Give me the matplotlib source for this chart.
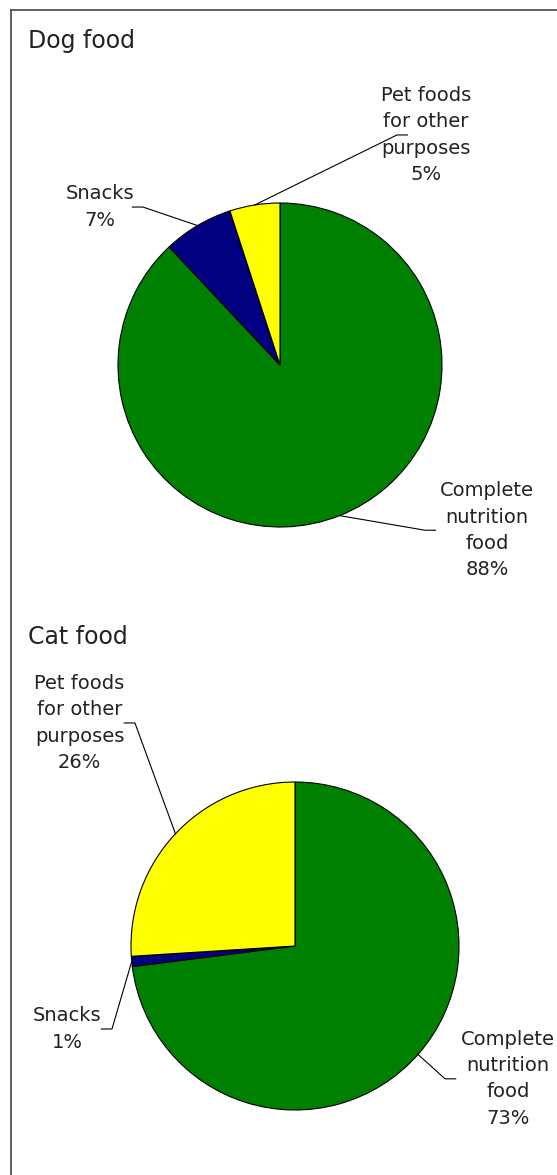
import numpy as np
import matplotlib
matplotlib.use("Agg")
import matplotlib.pyplot as plt
from matplotlib.lines import Line2D

# data
categories = ["Complete\nnutrition\nfood", "Snacks", "Pet foods\nfor other\npurposes"]
dog_values = [88, 7, 5]
cat_values = [73, 1, 26]
colors = ["#008000", "#000080", "#FFFF00"]

W, H = 557, 1175
plt.rcParams['font.family'] = ['DejaVu Sans']
TXT = "#222222"

fig = plt.figure(figsize=(W / 100, H / 100), dpi=100)

# outer frame (only top and left edges are visible in the crop)
fig.add_artist(Line2D([11 / W, 11 / W], [0, 1 - 10 / H], color="#444444", lw=1.2))
fig.add_artist(Line2D([11 / W, 1], [1 - 10 / H, 1 - 10 / H], color="#444444", lw=1.2))


def draw_pie(rect, values, title, title_base, label_pos):
    ax = fig.add_axes(rect)
    wedges, _ = ax.pie(values, colors=colors, startangle=90, counterclock=False,
                       wedgeprops=dict(edgecolor="black", linewidth=0.8))
    ax.set_xlim(-1, 1)
    ax.set_ylim(-1, 1)
    ax.set_aspect("equal")

    total = float(sum(values))
    start = 0.0
    for name, v, (tx, ty, ex, side) in zip(categories, values, label_pos):
        mid = start + v / total / 2
        start += v / total
        ang = np.deg2rad(90 - mid * 360)
        px, py = np.cos(ang), np.sin(ang)
        # leader: edge -> elbow -> short horizontal stub
        ax.plot([px, ex, ex + side * 0.065], [py, ty, ty], color="black",
                lw=0.8, clip_on=False)
        ax.text(tx, ty, f"{name}\n{v}%", ha="center", va="center",
                multialignment="center", fontsize=14, color=TXT,
                linespacing=1.48)

    fig.text(28 / W, 1 - title_base / H, title, fontsize=17, color=TXT,
             va="baseline", ha="left")


# label layout: (text x, text y, elbow x, stub direction) in pie radius units
dog_labels = [(1.278, -1.02, 0.895, 1), (-1.111, 0.975, -0.846, -1), (0.901, 1.42, 0.722, 1)]
cat_labels = [(1.30, -0.81, 0.915, 1), (-1.387, -0.506, -1.116, -1), (-1.314, 1.36, -0.976, -1)]

draw_pie([118 / W, 648 / H, 324 / W, 324 / H], dog_values, "Dog food", 48, dog_labels)
draw_pie([131 / W, 65 / H, 328 / W, 328 / H], cat_values, "Cat food", 644, cat_labels)

fig.savefig("out.png", dpi=100)
